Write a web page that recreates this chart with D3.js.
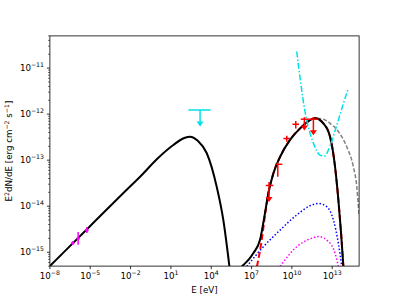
<!DOCTYPE html>
<html>
<head>
<meta charset="utf-8">
<script src="https://cdn.jsdelivr.net/npm/d3@7"></script>
<style>
  body { margin: 0; background: #fff; }
  svg { display: block; font-family: "DejaVu Sans", sans-serif; }
</style>
</head>
<body>
<div id="chart"></div>
<script>
// all values as log10(E / eV) and log10(E^2 dN/dE / erg cm^-2 s^-1)
var synchLogE = [-8, -5, -2, -1.29, -0.05, 1.18, 2.0, 2.42, 3.0, 3.67, 4.41, 4.9, 5.35];
var synchLogF = [-15.3, -14.43, -13.56, -13.36, -12.98, -12.67, -12.52, -12.49, -12.58, -12.85, -13.58, -14.3, -15.3];

var totalLogE = [6.27, 7.13, 7.63, 8.0, 8.25, 8.62, 9.12, 9.86, 10.61, 11.35, 11.72, 12.34, 12.84, 13.21, 13.46, 13.66, 13.83];
var totalLogF = [-15.31, -15.02, -14.73, -14.15, -13.72, -13.29, -12.93, -12.56, -12.31, -12.13, -12.09, -12.2, -12.49, -13.14, -13.87, -14.59, -15.31];

var redLogE = [7.4, 7.76, 8.0, 8.25, 8.62, 9.12, 9.86, 10.61, 11.35, 11.72, 12.34, 12.84, 13.21, 13.46, 13.66, 13.83];
var redLogF = [-15.31, -14.73, -14.2, -13.72, -13.29, -12.93, -12.56, -12.31, -12.13, -12.09, -12.2, -12.49, -13.14, -13.87, -14.59, -15.31];

var grayLogE = [6.27, 7.13, 7.63, 8.0, 8.25, 8.62, 9.12, 9.86, 10.61, 11.35, 11.72, 12.34, 12.84, 13.46, 14.08, 14.57, 14.83, 14.95, 15.0];
var grayLogF = [-15.31, -15.02, -14.73, -14.15, -13.72, -13.29, -12.93, -12.56, -12.31, -12.13, -12.09, -12.11, -12.2, -12.38, -12.71, -13.14, -13.58, -14.01, -14.2];

var blueLogE = [6.64, 7.88, 9.12, 10.36, 11.35, 11.97, 12.59, 13.09, 13.46, 13.71];
var blueLogF = [-15.31, -14.88, -14.52, -14.19, -13.99, -13.94, -14.01, -14.3, -14.81, -15.31];

var pinkLogE = [9.12, 10.36, 11.35, 11.97, 12.72, 13.21, 13.46];
var pinkLogF = [-15.31, -14.88, -14.71, -14.66, -14.77, -15.02, -15.31];

var sensLogE = [10.36, 10.98, 11.6, 12.1, 12.42, 12.84, 13.34, 13.83, 14.2];
var sensLogF = [-10.64, -11.95, -12.63, -12.89, -12.91, -12.69, -12.24, -11.77, -11.44];

// optical / x-ray points
var optLogE = [-6.3, -5.9, -5.25];
var optLogF = [-14.8, -14.7, -14.52];
var optErrLo = [-14.84, -14.84, -14.58];
var optErrHi = [-14.76, -14.56, -14.45];

// gamma-ray points
var gamLogE = [8.3, 8.95, 9.62, 10.29, 10.93, 11.6];
var gamLogF = [-13.55, -13.09, -12.53, -12.22, -12.11, -12.11];
var gamELo = [8.06, 8.75, 9.37, 10.04, 10.66, 11.3];
var gamEHi = [8.62, 9.29, 9.86, 10.53, 11.28, 11.97];
var gamErrLo = [-13.55, -13.36, -12.6, -12.31, -12.11, -12.11];
var gamErrHi = [-13.52, -13.05, -12.47, -12.15, -12.11, -12.11];
var gamUL = [-13.9, null, null, null, -12.345, -12.45];

// cyan upper limit
var cyanLogE = [3.17];
var cyanLogF = [-11.91];
var cyanELo = [2.3];
var cyanEHi = [3.96];
var cyanUL = [-12.26];

var xTicks = [-8, -5, -2, 1, 4, 7, 10, 13];
var yTicks = [-15, -14, -13, -12, -11];

var W = 399, H = 299;
var L = 49.9, R = 359.1, T = 35.9, B = 266.1;

var p10 = function(v){ return Math.pow(10, v); };
var x = d3.scaleLog().domain([1e-8, 1e15]).range([L, R]);
var y = d3.scaleLog().domain([5e-16, 5e-11]).range([B, T]);

var svg = d3.select("#chart").append("svg").attr("width", W).attr("height", H);

svg.append("clipPath").attr("id", "clip")
  .append("rect").attr("x", L).attr("y", T).attr("width", R - L).attr("height", B - T);

var plot = svg.append("g").attr("clip-path", "url(#clip)");

function curve(le, lf, color, width, dash) {
  var pts = le.map(function(e, i){ return [x(p10(e)), y(p10(lf[i]))]; });
  plot.append("path")
    .attr("d", d3.line().curve(d3.curveMonotoneX)(pts))
    .attr("fill", "none")
    .attr("stroke", color)
    .attr("stroke-width", width)
    .attr("stroke-dasharray", dash || null);
}

curve(synchLogE, synchLogF, "#000", 2);
curve(grayLogE, grayLogF, "#808080", 1.5, "4,2");
curve(blueLogE, blueLogF, "blue", 1.5, "1.5,2");
curve(pinkLogE, pinkLogF, "magenta", 1.5, "1.5,2");
curve(redLogE, redLogF, "red", 2, "6,3");
curve(totalLogE, totalLogF, "#000", 2);
curve(sensLogE, sensLogF, "#00e0e8", 1.5, "6,2,1.5,2");

function seg(x1, y1, x2, y2, color, w) {
  plot.append("line").attr("x1", x1).attr("y1", y1).attr("x2", x2).attr("y2", y2)
    .attr("stroke", color).attr("stroke-width", w);
}
function arrow(px, py1, py2, color) {
  seg(px, py1, px, py2 - 3, color, 1.5);
  plot.append("path")
    .attr("d", "M" + (px - 3.5) + "," + (py2 - 4.5) + "L" + (px + 3.5) + "," + (py2 - 4.5) + "L" + px + "," + (py2 + 0.5) + "Z")
    .attr("fill", color);
}

// optical points
optLogE.forEach(function(e, i){
  var px = x(p10(e)), py = y(p10(optLogF[i]));
  seg(px, y(p10(optErrLo[i])), px, y(p10(optErrHi[i])), "magenta", 1.5);
  seg(px - 1.5, py, px + 1.5, py, "magenta", 1.5);
  plot.append("circle").attr("cx", px).attr("cy", py).attr("r", 1.6).attr("fill", "magenta");
});

// gamma-ray points
gamLogE.forEach(function(e, i){
  var px = x(p10(e)), py = y(p10(gamLogF[i]));
  seg(x(p10(gamELo[i])), py, x(p10(gamEHi[i])), py, "red", 1.5);
  seg(px, y(p10(gamErrLo[i])), px, y(p10(gamErrHi[i])) - (gamUL[i] !== null ? 2 : 0), "red", 1.5);
  if (gamUL[i] !== null) arrow(px, py, y(p10(gamUL[i])), "red");
});

// cyan upper limit
cyanLogE.forEach(function(e, i){
  var px = x(p10(e)), py = y(p10(cyanLogF[i]));
  seg(x(p10(cyanELo[i])), py, x(p10(cyanEHi[i])), py, "#00e0e8", 1.5);
  arrow(px, py, y(p10(cyanUL[i])), "#00e0e8");
});

// frame
svg.append("rect").attr("x", L).attr("y", T).attr("width", R - L).attr("height", B - T)
  .attr("fill", "none").attr("stroke", "#000").attr("stroke-width", 0.8);

function sup(sel, base, exp) {
  sel.append("tspan").text(base);
  sel.append("tspan").attr("font-size", "6.2px").attr("dy", -4).text(exp);
}

// x ticks
xTicks.forEach(function(k){
  var px = x(p10(k));
  svg.append("line").attr("x1", px).attr("x2", px).attr("y1", B).attr("y2", B + 3)
    .attr("stroke", "#000").attr("stroke-width", 0.8);
  var t = svg.append("text").attr("x", px).attr("y", 278.5).attr("text-anchor", "middle")
    .attr("font-size", "8.7px");
  sup(t, "10", String(k).replace("-", "\u2212"));
});

// y ticks (major + minor)
for (var k = -16; k <= -10; k++) {
  for (var m = 1; m <= 9; m++) {
    var v = m * p10(k);
    if (v < 5e-16 || v > 5e-11) continue;
    var py = y(v);
    svg.append("line").attr("x1", L - (m === 1 ? 3 : 1.8)).attr("x2", L).attr("y1", py).attr("y2", py)
      .attr("stroke", "#000").attr("stroke-width", m === 1 ? 0.8 : 0.6);
  }
}
yTicks.forEach(function(k){
  var py = y(p10(k));
  var t = svg.append("text").attr("x", 44).attr("y", py + 3).attr("text-anchor", "end")
    .attr("font-size", "8.7px");
  sup(t, "10", String(k).replace("-", "\u2212"));
});

// axis labels
svg.append("text").attr("x", (L + R) / 2).attr("y", 293).attr("text-anchor", "middle")
  .attr("font-size", "8.7px").text("E [eV]");

var yl = svg.append("text").attr("transform", "translate(12," + ((T + B) / 2) + ") rotate(-90)")
  .attr("text-anchor", "middle").attr("font-size", "8.7px");
yl.append("tspan").text("E");
yl.append("tspan").attr("font-size", "6.2px").attr("dy", -3.5).text("2");
yl.append("tspan").attr("dy", 3.5).text("dN/dE [erg cm");
yl.append("tspan").attr("font-size", "6.2px").attr("dy", -3.5).text("\u22122");
yl.append("tspan").attr("dy", 3.5).text(" s");
yl.append("tspan").attr("font-size", "6.2px").attr("dy", -3.5).text("\u22121");
yl.append("tspan").attr("dy", 3.5).text("]");
</script>
</body>
</html>
